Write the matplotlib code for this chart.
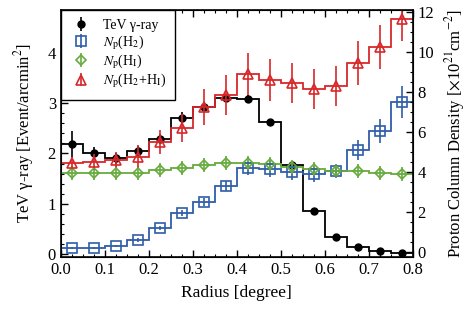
import numpy as np
import matplotlib
matplotlib.use('Agg')
import matplotlib.pyplot as plt
from matplotlib.ticker import MultipleLocator

plt.rcParams['font.family'] = ['Liberation Serif', 'DejaVu Serif']
plt.rcParams['mathtext.fontset'] = 'stix'

# bin centres [degree]
radius = [0.025, 0.075, 0.125, 0.175, 0.225, 0.275, 0.325, 0.375,
          0.425, 0.475, 0.525, 0.575, 0.625, 0.675, 0.725, 0.775]

# TeV gamma-ray [Event/arcmin^2] (left axis)
tev = [2.18, 2.00, 1.90, 2.05, 2.29, 2.70, 2.92, 3.10,
       3.08, 2.62, 1.77, 0.86, 0.33, 0.15, 0.06, 0.03]
tev_err = [0.26, 0.12, 0.10, 0.10, 0.10, 0.12, 0.10, 0.08,
           0.08, 0.06, 0.06, 0.05, 0.03, 0.03, 0.02, 0.02]

# proton column density [1e21 cm^-2] (right axis)
np_h2 = [0.20, 0.22, 0.32, 0.60, 1.18, 1.93, 2.50, 3.30,
         4.18, 4.13, 4.00, 3.90, 4.07, 5.08, 6.05, 7.50]
np_h2_err = [0.05, 0.05, 0.05, 0.08, 0.10, 0.15, 0.20, 0.25,
             0.35, 0.40, 0.40, 0.40, 0.35, 0.50, 0.60, 0.80]

np_hi = [3.95, 3.95, 3.95, 3.95, 4.10, 4.20, 4.35, 4.43,
         4.47, 4.38, 4.27, 4.13, 4.05, 4.05, 3.97, 3.88]
np_hi_err = [0.35] * 16

np_tot = [4.43, 4.48, 4.60, 4.77, 5.52, 6.18, 7.25, 7.85,
          8.90, 8.60, 8.43, 8.13, 8.30, 9.43, 10.23, 11.65]
np_tot_err = [0.30, 0.40, 0.40, 0.60, 0.60, 0.70, 0.90, 1.00,
              1.05, 1.05, 1.00, 1.00, 1.00, 1.10, 1.10, 1.10]

c_black = 'black'
c_blue = '#2f5ea8'
c_green = '#66ab3e'
c_red = '#d8272a'

r = np.array(radius)
half = 0.025
edges = np.append(r - half, r[-1] + half)

fig = plt.figure(figsize=(4.68, 3.09), dpi=100)
ax = fig.add_axes([0.130, 0.168, 0.752, 0.801])
ax2 = ax.twinx()

# left axis: TeV gamma-ray
ax.stairs(tev, edges, baseline=None, color=c_black, lw=1.3)
h_tev = ax.errorbar(r, tev, yerr=tev_err, fmt='o', color=c_black, ms=5,
                    elinewidth=1.2, capsize=0)

# right axis: proton column densities
handles = [h_tev]
for vals, errs, col, mk, ms in [(np_h2, np_h2_err, c_blue, 's', 7),
                                (np_hi, np_hi_err, c_green, 'D', 5.5),
                                (np_tot, np_tot_err, c_red, '^', 7.5)]:
    ax2.stairs(vals, edges, baseline=None, color=col, lw=1.3)
    h = ax2.errorbar(r, vals, yerr=errs, fmt=mk, color=col, ms=ms, mfc='none',
                     mew=1.2, elinewidth=1.2, capsize=0)
    handles.append(h)

labels = ['TeV γ-ray', r'$N_{\rm p}$(H$_2$)', r'$N_{\rm p}$(H$_{\rm I}$)',
          r'$N_{\rm p}$(H$_2$+H$_{\rm I}$)']
leg = ax2.legend(handles, labels, loc='upper left', borderaxespad=0,
                 fancybox=False, framealpha=1, edgecolor='black', fontsize=10,
                 handlelength=1.5, handletextpad=0.8, labelspacing=0.05,
                 borderpad=0.7)
leg.get_frame().set_linewidth(1.0)

ax.set_xlim(0, 0.8)
ax.set_ylim(-0.06, 4.86)
ax2.set_ylim(-0.25, 12.12)

ax.xaxis.set_major_locator(MultipleLocator(0.1))
ax.xaxis.set_minor_locator(MultipleLocator(0.025))
ax.yaxis.set_major_locator(MultipleLocator(1))
ax.yaxis.set_minor_locator(MultipleLocator(0.2))
ax2.yaxis.set_major_locator(MultipleLocator(2))
ax2.yaxis.set_minor_locator(MultipleLocator(0.5))

ax.tick_params(which='both', direction='in', top=True, labelsize=12)
ax.tick_params(which='major', length=5, width=1)
ax.tick_params(which='minor', length=2.5, width=0.8)
ax2.tick_params(which='both', direction='in', labelsize=12)
ax2.tick_params(which='major', length=5, width=1)
ax2.tick_params(which='minor', length=2.5, width=0.8)
ax.xaxis.set_major_formatter(plt.FuncFormatter(lambda v, p: f'{v:.1f}'))

for sp in ax2.spines.values():
    sp.set_linewidth(1.2)

ax.set_xlabel('Radius [degree]', fontsize=12.5, labelpad=5)
ax.set_ylabel(r'TeV γ-ray [Event/arcmin$^2$]', fontsize=12, labelpad=8)
ax2.set_ylabel(r'Proton Column Density [$\times$10$^{21}$cm$^{-2}$]', fontsize=12,
               labelpad=6)

fig.savefig('out.png', dpi=100)
